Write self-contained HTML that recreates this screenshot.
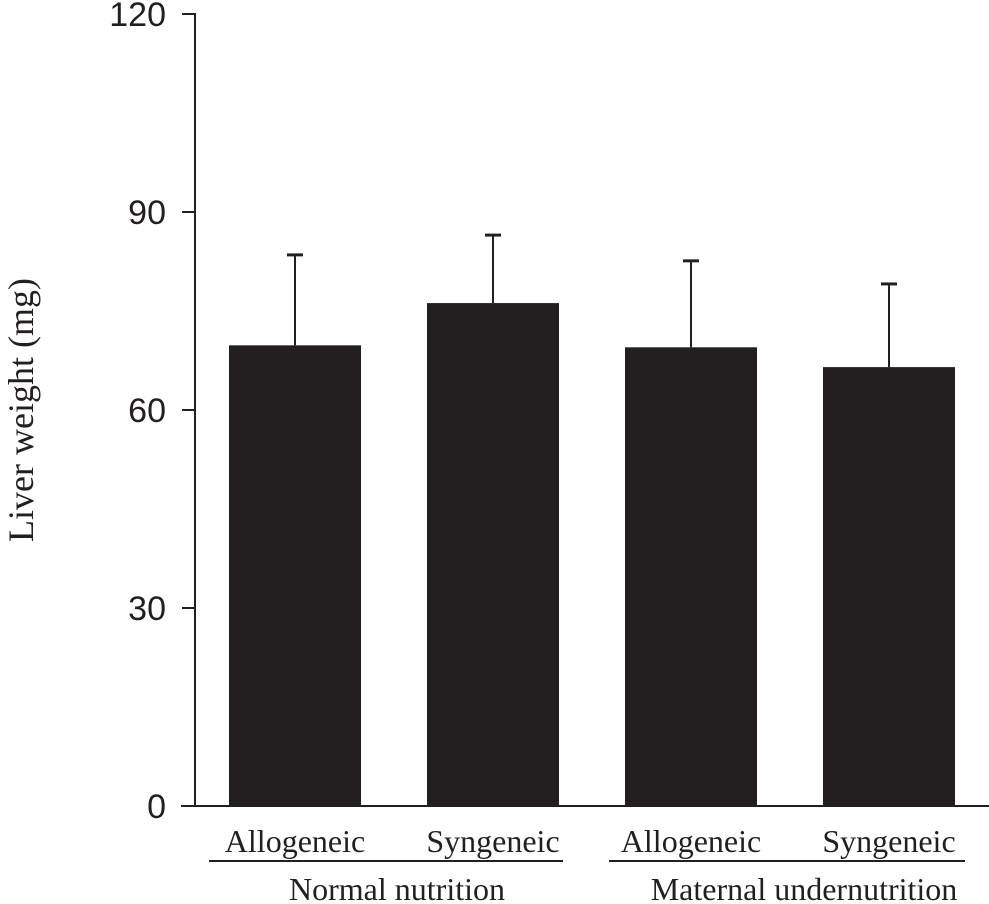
<!DOCTYPE html>
<html><head><meta charset="utf-8"><style>
body{margin:0;background:#fff}
svg{display:block}
.t{font-family:"Liberation Sans",sans-serif;font-size:34px;fill:#231f20}
.s{font-family:"Liberation Serif",serif;font-size:32px;fill:#231f20}
.g{font-family:"Liberation Serif",serif;font-size:32px;fill:#231f20}
.yt{font-family:"Liberation Serif",serif;font-size:36px;fill:#231f20}
</style></head><body>
<svg id="c" width="989" height="904"></svg>
<script>
const categories=["Allogeneic","Syngeneic","Allogeneic","Syngeneic"];
const means=[69.8,76.2,69.5,66.5];
const errs=[13.7,10.3,13.1,12.6];
const ticks=[0,30,60,90,120];
const groups=["Normal nutrition","Maternal undernutrition"];
const NS="http://www.w3.org/2000/svg";
const svg=document.getElementById('c');
const y=v=>806-v*6.6;
const barX=i=>229+i*198;
const BW=132;
function mk(t,a,txt){const e=document.createElementNS(NS,t);for(const k in a)e.setAttribute(k,a[k]);if(txt!=null)e.textContent=txt;svg.appendChild(e);return e;}
let e;
e=mk('line',{x1:195,y1:13,x2:195,y2:807,stroke:'#231f20','stroke-width':2});


e=mk('line',{x1:181,y1:806,x2:989,y2:806,stroke:'#231f20','stroke-width':2});


ticks.forEach(t=>{
 e=mk('line',{x1:182,y1:y(t),x2:195,y2:y(t),stroke:'#231f20','stroke-width':2});
 
 
 e=mk('text',{x:166,y:y(t)+12,'text-anchor':'end',class:'t'},t);
 
 
});
means.forEach((m,i)=>{
 const x=barX(i),cx=x+BW/2;
 e=mk('rect',{x:x,y:y(m),width:BW,height:806-y(m),fill:'#231f20'});
 
 
 e=mk('line',{x1:cx,y1:y(m),x2:cx,y2:y(m+errs[i]),stroke:'#231f20','stroke-width':2});
 
 
 e=mk('line',{x1:cx-8,y1:y(m+errs[i]),x2:cx+8,y2:y(m+errs[i]),stroke:'#231f20','stroke-width':3});
 
 
 e=mk('text',{x:cx,y:852,'text-anchor':'middle',class:'s'},categories[i]);
 
 
});
groups.forEach((g,j)=>{
 const x1=barX(j*2)-20+j*4,x2=barX(j*2+1)+BW+4+j*6;
 e=mk('line',{x1:x1,y1:861,x2:x2,y2:861,stroke:'#231f20','stroke-width':2});
 
 
 e=mk('text',{x:(x1+x2)/2+11+j*6,y:900,'text-anchor':'middle',class:'g'},g);
 
 
});
e=mk('text',{x:0,y:0,'text-anchor':'middle',class:'yt',transform:'translate(33,410) rotate(-90)'},'Liver weight (mg)');


</script>
</body></html>
